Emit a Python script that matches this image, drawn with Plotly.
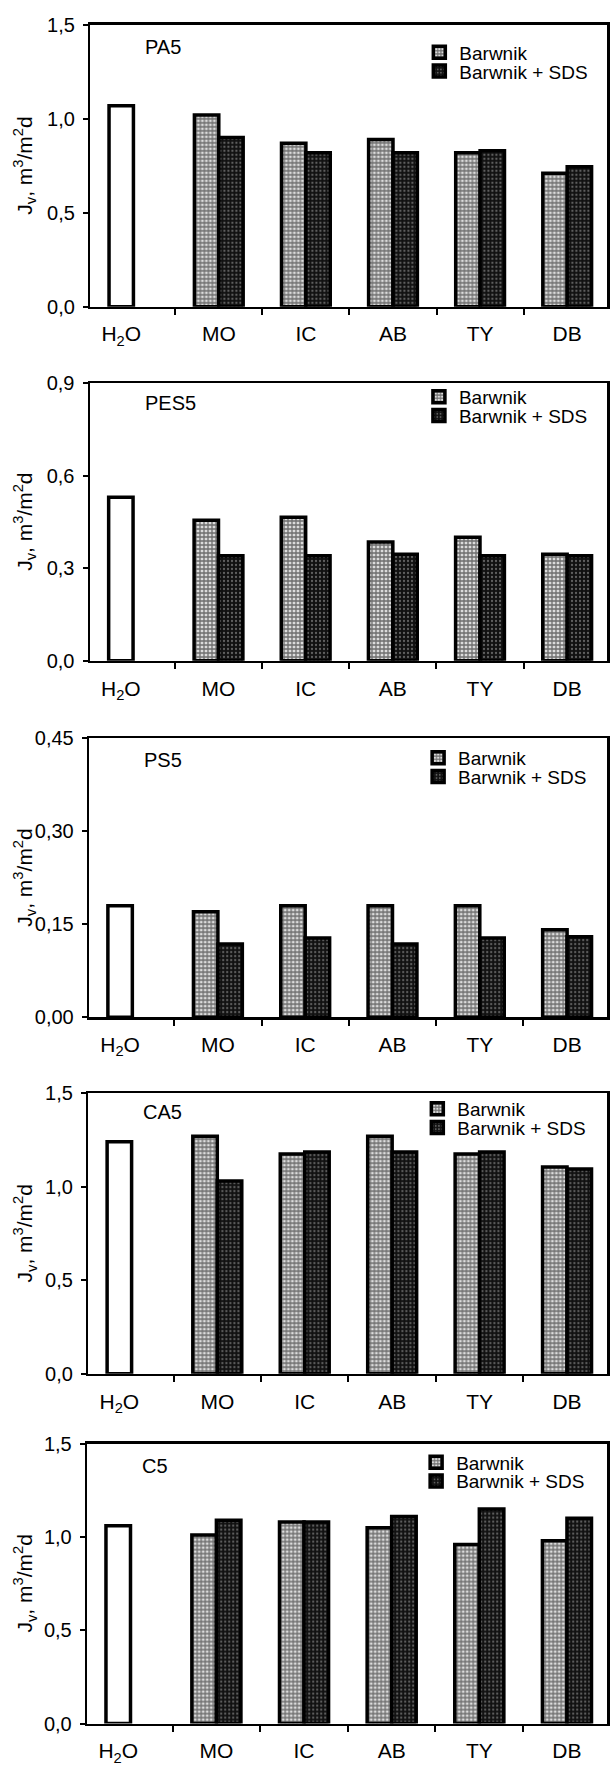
import plotly.graph_objects as go

# ---------------- data ----------------
categories = ["MO", "IC", "AB", "TY", "DB"]
water_label = "H<sub>2</sub>O"
series_names = ["Barwnik", "Barwnik + SDS"]
panel_names = ["PA5", "PES5", "PS5", "CA5", "C5"]

pa5_water = 1.07
pa5_dye = [1.02, 0.87, 0.89, 0.82, 0.71]
pa5_dye_sds = [0.90, 0.82, 0.82, 0.83, 0.745]

pes5_water = 0.53
pes5_dye = [0.455, 0.465, 0.385, 0.40, 0.345]
pes5_dye_sds = [0.34, 0.34, 0.345, 0.34, 0.34]

ps5_water = 0.18
ps5_dye = [0.17, 0.18, 0.18, 0.18, 0.141]
ps5_dye_sds = [0.118, 0.128, 0.118, 0.128, 0.13]

ca5_water = 1.24
ca5_dye = [1.27, 1.175, 1.27, 1.175, 1.105]
ca5_dye_sds = [1.03, 1.185, 1.185, 1.185, 1.095]

c5_water = 1.06
c5_dye = [1.01, 1.08, 1.05, 0.96, 0.98]
c5_dye_sds = [1.09, 1.08, 1.11, 1.15, 1.10]

y_max = [1.5, 0.9, 0.45, 1.5, 1.5]
y_tickvals = [
    [0, 0.5, 1.0, 1.5],
    [0, 0.3, 0.6, 0.9],
    [0, 0.15, 0.30, 0.45],
    [0, 0.5, 1.0, 1.5],
    [0, 0.5, 1.0, 1.5],
]
y_ticktext = [
    ["0,0", "0,5", "1,0", "1,5"],
    ["0,0", "0,3", "0,6", "0,9"],
    ["0,00", "0,15", "0,30", "0,45"],
    ["0,0", "0,5", "1,0", "1,5"],
    ["0,0", "0,5", "1,0", "1,5"],
]
y_title = "J<sub>v</sub>, m<sup>3</sup>/m<sup>2</sup>d"

panels = [
    (pa5_water, pa5_dye, pa5_dye_sds),
    (pes5_water, pes5_dye, pes5_dye_sds),
    (ps5_water, ps5_dye, ps5_dye_sds),
    (ca5_water, ca5_dye, ca5_dye_sds),
    (c5_water, c5_dye, c5_dye_sds),
]

# ---------------- layout geometry (pixels) ----------------
W, H = 610, 1767
panel_top = [14.0, 376.7, 736.3, 1095.8, 1450.7]
panel_bot = [299.5, 658.0, 1019.0, 1380.0, 1734.2]
panel_left = [90.7, 90.3, 89.5, 88.7, 87.5]
panel_right = 609.0
label_dy = [22, 20, 22, 19, 23]
legend_dy = [28, 14, 20, 16, 19]
legend_step = 19

cat_pos = list(range(1, len(categories) + 1))
boundaries = [p - 0.5 for p in cat_pos]
water_pos = -0.12
bar_w = 0.28
x_range = [-0.474, 5.457]

FONT = "Liberation Sans, Arial, Helvetica, sans-serif"

dye_pattern = dict(shape="+", fgcolor="#000000", bgcolor="#dcdcdc", size=4, solidity=0.55)
sds_pattern = dict(shape=".", fgcolor="#b0b0b0", bgcolor="#111111", size=4, solidity=0.25)
outline = dict(color="black", width=3.5)

fig = go.Figure()
annotations = []
layout_extra = {}

for i, (water, dye, sds) in enumerate(panels):
    n = i + 1
    xa = "x" if n == 1 else f"x{n}"
    ya = "y" if n == 1 else f"y{n}"
    lg_a = "legend" if n == 1 else f"legend{2 * n - 1}"
    lg_b = f"legend{2 * n}"

    fig.add_trace(go.Bar(
        x=[water_pos], y=[water], width=bar_w, offset=-bar_w / 2,
        marker=dict(color="white", line=outline),
        showlegend=False, xaxis=xa, yaxis=ya, hoverinfo="skip",
    ))
    fig.add_trace(go.Bar(
        x=cat_pos, y=dye, width=bar_w, offset=-bar_w, name=series_names[0],
        marker=dict(color="white", pattern=dye_pattern, line=outline),
        xaxis=xa, yaxis=ya, legend=lg_a,
    ))
    fig.add_trace(go.Bar(
        x=cat_pos, y=sds, width=bar_w, offset=0, name=series_names[1],
        marker=dict(color="white", pattern=sds_pattern, line=outline),
        xaxis=xa, yaxis=ya, legend=lg_b,
    ))

    xdom = [panel_left[i] / W, panel_right / W]
    ydom = [1 - panel_bot[i] / H, 1 - panel_top[i] / H]
    xkey = "xaxis" if n == 1 else f"xaxis{n}"
    ykey = "yaxis" if n == 1 else f"yaxis{n}"

    layout_extra[xkey] = dict(
        domain=xdom, anchor=ya, range=x_range,
        tickmode="array", tickvals=[water_pos] + cat_pos,
        ticktext=[water_label] + categories,
        ticks="", showgrid=False, zeroline=False,
        showline=True, linecolor="black", linewidth=2.5, mirror=True,
        tickfont=dict(family=FONT, size=21, color="black"),
        ticklabelstandoff=7,
        minor=dict(tickmode="array", tickvals=boundaries, ticks="outside",
                   ticklen=6, tickwidth=2, tickcolor="black", showgrid=False),
        fixedrange=True,
    )
    layout_extra[ykey] = dict(
        domain=ydom, anchor=xa, range=[0, y_max[i]],
        tickmode="array", tickvals=y_tickvals[i], ticktext=y_ticktext[i],
        ticks="outside", ticklen=5, tickwidth=2, tickcolor="black",
        showgrid=False, zeroline=False,
        showline=True, linecolor="black", linewidth=2.5, mirror=True,
        tickfont=dict(family=FONT, size=20, color="black"),
        ticklabelstandoff=4,
        fixedrange=True,
    )
    for k, lg in enumerate([lg_a, lg_b]):
        layout_extra[lg] = dict(
            x=(panel_left[i] + 330) / W, xanchor="left",
            y=1 - (panel_top[i] + legend_dy[i] + k * legend_step) / H,
            yanchor="middle",
            bgcolor="rgba(0,0,0,0)", borderwidth=0,
            font=dict(family=FONT, size=19, color="black"),
            itemwidth=30,
        )

    annotations.append(dict(
        text=panel_names[i], xref="paper", yref="paper",
        x=(panel_left[i] + 53) / W, y=1 - (panel_top[i] + label_dy[i]) / H,
        xanchor="left", yanchor="middle", showarrow=False,
        font=dict(family=FONT, size=20, color="black"),
    ))
    annotations.append(dict(
        text=y_title, xref="paper", yref="paper",
        x=25 / W, y=1 - (panel_top[i] + panel_bot[i]) / 2 / H,
        xanchor="center", yanchor="middle", textangle=-90, showarrow=False,
        font=dict(family=FONT, size=21, color="black"),
    ))

fig.update_layout(
    width=W, height=H,
    margin=dict(l=0, r=0, t=0, b=0),
    paper_bgcolor="white", plot_bgcolor="white",
    barmode="overlay",
    annotations=annotations,
    font=dict(family=FONT, color="black"),
    **layout_extra,
)

fig.write_html(
    "out.html",
    config={"displayModeBar": False, "staticPlot": True},
    post_script="document.body.style.margin='0';document.body.style.overflow='hidden';",
)
